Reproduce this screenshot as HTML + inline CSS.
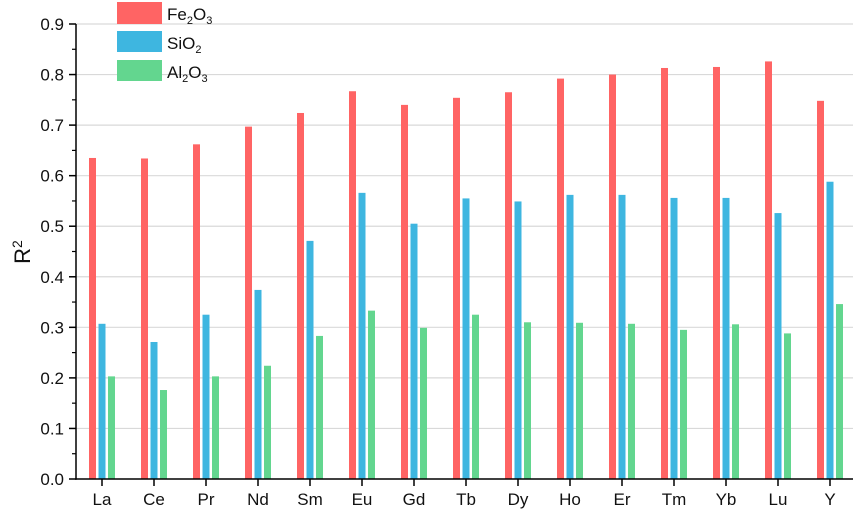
<!DOCTYPE html>
<html><head><meta charset="utf-8"><style>
body{margin:0;background:#fff;}
svg text{font-family:"Liberation Sans",Arial,sans-serif;fill:#111;}
</style></head><body>
<svg id="chart" width="855" height="517" viewBox="0 0 855 517" xmlns="http://www.w3.org/2000/svg">
<g id="grid"></g>
<g id="bars"></g>
<g id="axes"></g>
<text transform="translate(30,252) rotate(-90)" text-anchor="middle" font-size="22">R<tspan dy="-8" font-size="14">2</tspan></text>
<g>
 <g><rect x="117" y="2" width="45" height="22" fill="#ff6464"/><text x="167" y="20" font-size="17">Fe<tspan font-size="11" dy="4">2</tspan><tspan dy="-4">O</tspan><tspan font-size="11" dy="4">3</tspan></text></g>
 <g><rect x="117" y="31" width="45" height="21" fill="#3eb6e0"/><text x="167" y="49" font-size="17">SiO<tspan font-size="11" dy="4">2</tspan></text></g>
 <g><rect x="117" y="60" width="45" height="21" fill="#63d68f"/><text x="167" y="78" font-size="17">Al<tspan font-size="11" dy="4">2</tspan><tspan dy="-4">O</tspan><tspan font-size="11" dy="4">3</tspan></text></g>
</g>
</svg>
<script>
const categories=["La","Ce","Pr","Nd","Sm","Eu","Gd","Tb","Dy","Ho","Er","Tm","Yb","Lu","Y"];
const fe2o3=[0.635,0.634,0.662,0.697,0.724,0.767,0.740,0.754,0.765,0.792,0.800,0.813,0.815,0.826,0.748];
const sio2=[0.307,0.271,0.325,0.374,0.471,0.566,0.505,0.555,0.549,0.562,0.562,0.556,0.556,0.526,0.588];
const al2o3=[0.203,0.176,0.203,0.224,0.283,0.333,0.299,0.325,0.310,0.309,0.307,0.295,0.306,0.288,0.346];
const yTicks=["0.0","0.1","0.2","0.3","0.4","0.5","0.6","0.7","0.8","0.9"];
const NS="http://www.w3.org/2000/svg";
const x0=76,y0=479,yTop=24,yMax=0.9,xRight=853;
function yS(v){return y0-(v/yMax)*(y0-yTop);}
function xS(i){return 102+i*52;}
function mk(tag,attrs,parent){const e=document.createElementNS(NS,tag);for(const k in attrs)e.setAttribute(k,attrs[k]);parent.appendChild(e);return e;}
const grid=document.getElementById('grid'),bars=document.getElementById('bars'),axes=document.getElementById('axes');
yTicks.forEach((t,i)=>{
  const v=parseFloat(t),y=yS(v);
  if(v>0){const g=mk('line',{x1:x0,x2:xRight,y1:y,y2:y,stroke:'#d9d9d9','stroke-width':1.2},grid);
  
  }
  const tk=mk('line',{x1:x0-7,x2:x0,y1:y,y2:y,stroke:'#000','stroke-width':1.5},axes);
  
  
  const lb=mk('text',{x:x0-12,y:y+6,'text-anchor':'end','font-size':17},axes);
  lb.textContent=t;
  
  
  if(i<yTicks.length-1){const ym=yS(v+0.05);const mt=mk('line',{x1:x0-4,x2:x0,y1:ym,y2:ym,stroke:'#000','stroke-width':1.2},axes);
  
  }
});
const series=[[fe2o3,'#ff6464',-9.5],[sio2,'#3eb6e0',0],[al2o3,'#63d68f',9.5]];
categories.forEach((c,i)=>{
  series.forEach(([arr,col,off])=>{
    const y=yS(arr[i]);
    const r=mk('rect',{x:xS(i)+off-3.5,y:y,width:7,height:y0-y,fill:col},bars);
    
    
  });
  const tk=mk('line',{x1:xS(i),x2:xS(i),y1:y0,y2:y0+7,stroke:'#000','stroke-width':1.5},axes);
  
  
  const lb=mk('text',{x:xS(i),y:y0+26,'text-anchor':'middle','font-size':17},axes);
  lb.textContent=c;
  
  
});
const ya=mk('line',{x1:x0,x2:x0,y1:yTop,y2:y0+0.75,stroke:'#000','stroke-width':1.5},axes);


const xa=mk('line',{x1:x0-0.75,x2:xRight,y1:y0,y2:y0,stroke:'#000','stroke-width':1.5},axes);


</script>
</body></html>
